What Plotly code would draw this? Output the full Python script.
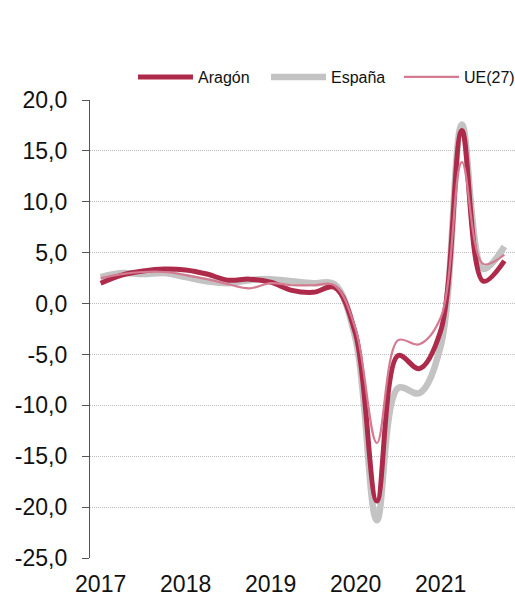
import plotly.graph_objects as go

quarters = list(range(20))
year_labels = ["2017", "2018", "2019", "2020", "2021"]
year_positions = [0, 4, 8, 12, 16]

aragon = [2.0, 2.8, 3.2, 3.4, 3.3, 2.9, 2.3, 2.4, 2.1, 1.3, 1.1, 1.6,
          -3.0, -19.4, -5.1, -6.4, -2.7, 17.0, 2.2, 4.2]
espana = [2.6, 3.0, 2.9, 3.0, 2.6, 2.2, 2.0, 2.3, 2.4, 2.2, 2.0, 1.9,
          -3.5, -21.3, -8.3, -8.8, -4.2, 17.6, 3.4, 5.6]
ue27 = [2.5, 2.9, 3.1, 3.1, 2.8, 2.4, 1.9, 1.5, 2.0, 1.8, 1.8, 1.8,
        -2.5, -13.7, -3.6, -4.0, -1.4, 13.9, 3.9, 4.8]

y_ticks = [20, 15, 10, 5, 0, -5, -10, -15, -20, -25]
y_ticktext = ["20,0", "15,0", "10,0", "5,0", "0,0", "-5,0", "-10,0", "-15,0", "-20,0", "-25,0"]

C_ARA = "#AE2A4A"
C_ESP = "#C3C3C3"
C_UE = "#D47B91"

fig = go.Figure()
fig.add_trace(go.Scatter(x=quarters, y=espana, name="España", mode="lines",
                         line=dict(color=C_ESP, width=6.5, shape="spline", smoothing=1.0),
                         legendrank=2))
fig.add_trace(go.Scatter(x=quarters, y=aragon, name="Aragón", mode="lines",
                         line=dict(color=C_ARA, width=5, shape="spline", smoothing=1.0),
                         legendrank=1))
fig.add_trace(go.Scatter(x=quarters, y=ue27, name="UE(27)", mode="lines",
                         line=dict(color=C_UE, width=2.2, shape="spline", smoothing=1.0),
                         legendrank=3))

FONT = "Liberation Sans, Arial, sans-serif"
zero_frac = 25 / 45

fig.update_layout(
    width=515, height=596,
    margin=dict(l=90, r=0, t=100, b=38, autoexpand=False),
    paper_bgcolor="white", plot_bgcolor="white",
    font=dict(family=FONT, color="#111111"),
    showlegend=True,
    legend=dict(orientation="h", x=43 / 425, xanchor="left", y=1.0 + 23 / 458, yanchor="middle",
                font=dict(size=16, family=FONT, color="#111111"),
                itemwidth=55, entrywidth=63, entrywidthmode="pixels",
                bgcolor="rgba(0,0,0,0)", traceorder="normal"),
    xaxis=dict(range=[-0.5, 19.5], tickmode="array", tickvals=year_positions,
               ticktext=year_labels, showgrid=False, zeroline=False, showline=False,
               ticks="", ticklabelstandoff=10,
               tickfont=dict(size=23, family=FONT, color="#111111")),
    xaxis2=dict(overlaying="x", anchor="free", position=zero_frac, side="bottom",
                range=[-0.5, 19.5], tickmode="array",
                tickvals=[i - 0.5 for i in range(21)], showticklabels=False,
                ticks="outside", ticklen=6, tickcolor="#555555", tickwidth=1,
                showline=True, linecolor="#555555", linewidth=1.3,
                showgrid=False, zeroline=False),
    yaxis=dict(range=[-25, 20], tickmode="array", tickvals=y_ticks, ticktext=y_ticktext,
               showgrid=True, gridcolor="#BEBEBE", griddash="1px,1px", gridwidth=1,
               zeroline=False, showline=True, linecolor="#555555", linewidth=1.3,
               ticks="outside", ticklen=7, tickcolor="#555555", ticklabelstandoff=10,
               tickfont=dict(size=23, family=FONT, color="#111111")),
)

fig.write_html("out.html", config={"displayModeBar": False},
               post_script="document.body.style.margin='0';")
